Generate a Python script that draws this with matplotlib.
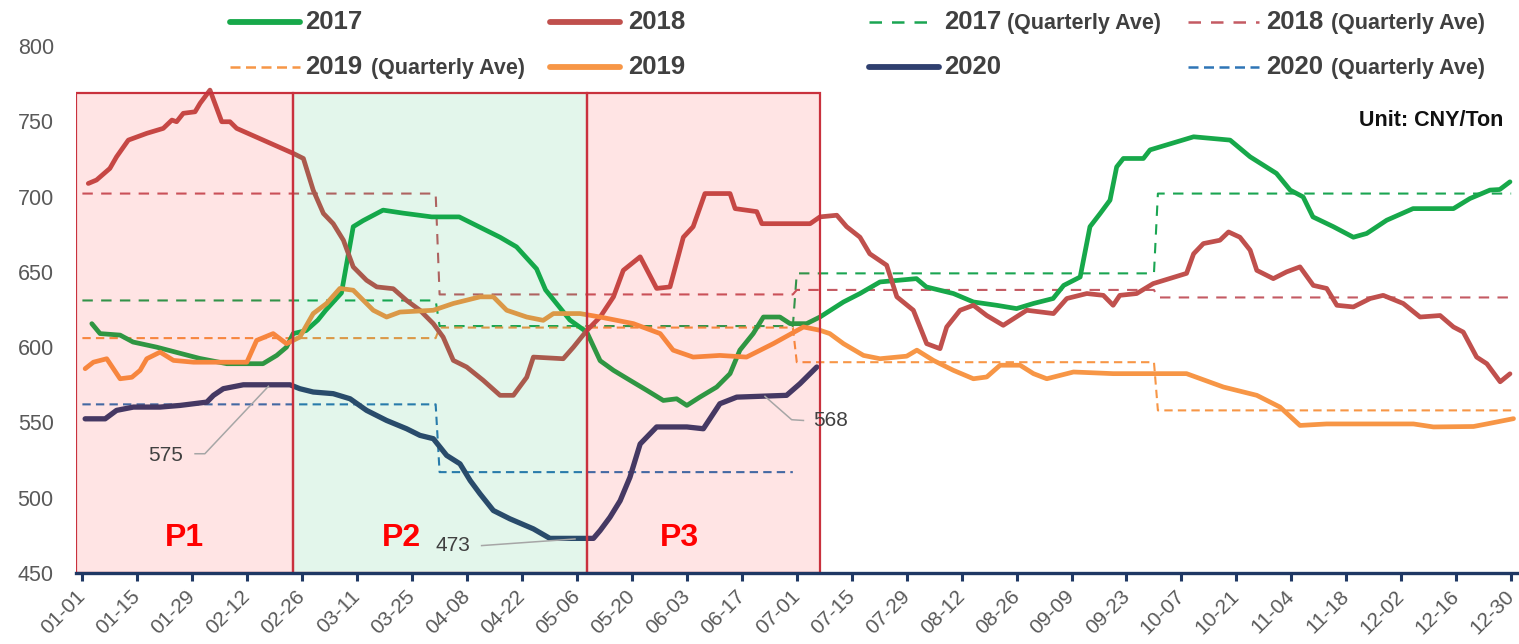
import matplotlib
matplotlib.use("Agg")
import matplotlib.pyplot as plt
import pandas as pd
from matplotlib.patches import Rectangle
from matplotlib.lines import Line2D

plt.rcParams['font.family'] = ['Liberation Sans', 'DejaVu Sans']

# ---------------- data (x = day index of year, 2020 calendar) ----------------
s2017 = [(2.4, 615.6), (4.5, 609), (9.6, 608), (12.9, 603.4), (18.9, 600), (29.9, 592.5),
         (36.8, 589), (43.5, 589), (46, 589), (49.5, 594.5), (52, 600), (53.7, 609),
         (57, 611), (60, 618), (62, 624.5), (66, 636), (69, 680), (71.5, 684),
         (76.6, 691), (81.7, 689), (89, 686.5), (96, 686.5), (101, 680), (106.4, 673),
         (110.6, 666.6), (115.7, 652), (118, 638), (124.2, 618), (128.5, 610), (131.9, 591),
         (135.3, 584.6), (139.5, 578), (143.8, 571.3), (148, 564.6), (151.4, 565.7),
         (154, 561.3), (157.3, 566.8), (161.6, 573.5), (165, 582.4), (167.5, 598),
         (170.9, 609), (173.5, 620), (177.7, 620), (180.3, 615.6), (184.5, 615.6),
         (187.9, 620), (193.9, 630), (198.1, 635.6), (203.2, 643.3), (212.5, 645.5),
         (215, 640), (221.9, 635.6), (227, 630), (232.9, 627.8), (238, 625.6), (242.3, 629),
         (247.3, 632.3), (250, 641), (254.2, 646.6), (256.7, 680), (259.3, 688.8),
         (261.8, 697.6), (263.5, 719.7), (265.2, 725.3), (270.3, 725.3), (272, 731),
         (283.1, 739.7), (292.4, 737.5), (297.5, 726.4), (304.2, 715.4), (307.7, 704.3),
         (311, 699.8), (313.5, 686.5), (318.7, 680), (323.8, 673), (327.2, 675.5),
         (332.3, 684.3), (339, 692), (349.3, 692), (353.5, 698.7), (358.6, 704.3),
         (361.1, 704.7), (363.7, 709.8)]

s2018 = [(1.5, 708.7), (3.6, 711), (7.0, 718.7), (8.7, 726.4), (11.7, 737.5), (16.4, 742),
         (20.6, 745.3), (22.8, 750.8), (24, 749.7), (25.7, 755.3), (28.7, 756.3), (30, 762),
         (32.5, 770.7), (35.5, 749.7), (37.6, 749.7), (39.3, 745.3), (53.7, 728.7),
         (56.3, 725.3), (58.8, 704.3), (61.4, 688.8), (63.9, 682), (66.5, 671), (69, 653.3),
         (72.4, 644.4), (75, 640), (79.2, 638.8), (82.6, 631), (86, 624.5), (89.4, 615.6),
         (91.9, 606.7), (94.5, 591.2), (97.9, 586.8), (102.1, 578), (106.4, 568),
         (109.8, 568), (113.2, 580), (114.9, 593.4), (122.5, 592.3), (125.1, 600),
         (128.5, 611), (131.9, 620), (135.3, 633.4), (137.8, 651), (142.1, 660),
         (146.3, 639), (149.7, 640), (153.1, 673), (155.6, 680), (158.6, 702), (165, 702),
         (166.3, 692), (171.8, 690), (173.1, 682), (185.4, 682), (187.9, 686.5),
         (192.2, 687.6), (194.7, 680), (198.1, 673), (200.6, 662), (204.9, 654.4),
         (207.5, 633.4), (211.7, 624.5), (215.1, 602.3), (218.5, 599), (220.2, 613.4),
         (223.6, 624.5), (227, 627.8), (230.4, 621), (234.6, 614.5), (240.6, 624.5),
         (247.4, 622.3), (250.8, 632.3), (255.9, 635.6), (260.1, 634.4), (262.6, 627.8),
         (264.3, 634.4), (268.6, 635.6), (272.8, 642.2), (281.3, 649), (283.1, 662),
         (285.6, 668.8), (289.8, 671), (292, 676.5), (294.9, 673), (297.5, 664.4),
         (299.2, 651), (303.4, 645.5), (306.8, 650), (310.2, 653.3), (313.6, 641),
         (317, 639), (319.6, 627.8), (323.8, 626.7), (328.1, 632.3), (331.4, 634.4),
         (336.5, 629), (340.8, 620), (345.9, 621), (349.3, 613.4), (351.8, 610),
         (355.2, 593.4), (357.8, 589), (361.2, 577), (363.7, 582.3)]

s2019 = [(0.7, 585.7), (2.8, 590), (6.2, 592.3), (9.6, 579), (12.6, 580), (14.7, 584.6),
         (16.4, 592.3), (19.8, 596.7), (23.2, 591.2), (28.3, 590), (41.9, 590), (44.4, 604.5),
         (48.6, 609), (52, 602.3), (55.4, 606.7), (58.8, 622.3), (62.2, 629), (65.6, 639),
         (69, 637.8), (74.1, 624.5), (77.5, 620), (80.9, 623.3), (89.4, 624.5), (94.5, 629),
         (101.3, 633.4), (104.7, 633.4), (108.1, 624.5), (113.2, 620), (117.4, 617.8),
         (120, 622.3), (126.8, 622.3), (131.9, 620), (140.4, 615.6), (147.2, 609),
         (150.5, 598), (155.6, 593.4), (162.4, 594.5), (169.2, 593.4), (176, 602.3),
         (183.7, 613.4), (187.9, 611.2), (190.4, 609), (193.9, 602.3), (199, 594.5),
         (203.2, 592.3), (210, 594), (212.6, 598), (216.8, 591.2), (221.9, 584.6),
         (227, 579), (230.4, 580.2), (233.8, 588), (238.9, 588), (242.3, 582.4),
         (245.7, 579), (252.5, 583.5), (262.6, 582.4), (281.3, 582.4), (290.7, 573.5),
         (299.2, 568), (305.1, 560.2), (310.2, 548), (317, 549), (339.1, 549), (344.2, 547),
         (354.4, 547.3), (357.8, 549), (364.6, 552.5)]

s2020 = [(0.7, 552.4), (5.8, 552.4), (8.7, 558), (13, 560.2), (19.8, 560.2), (24.9, 561.3),
         (31.7, 563.5), (33.4, 568), (35.9, 572.4), (41, 575), (52.9, 575), (55.4, 572.4),
         (58.8, 570.2), (63.9, 569.1), (68.2, 565.7), (72.4, 558), (77.5, 551.3),
         (82.6, 545.8), (86, 541.4), (89.4, 539.2), (92.8, 528.1), (96.2, 522.5),
         (98.8, 511.4), (101.3, 502.6), (104.7, 491.5), (108.9, 486), (114.9, 479.3),
         (119.1, 473), (130.2, 473), (131.9, 478.2), (134.4, 487), (137, 498),
         (139.5, 513.6), (142.1, 535.7), (146.3, 547), (154, 547), (158.2, 545.8),
         (162.4, 562.4), (166.7, 566.8), (179.4, 568), (182.8, 575.7), (187.1, 586.8)]

# quarterly averages
q2017 = [631, 614, 649, 702]
q2018 = [702, 635, 638, 633]
q2019 = [606, 613, 590, 558]
q2020 = [562, 517]
quarter_days = [(0, 90), (91, 181), (182, 273), (274, 364)]

tick_labels = ['01-01', '01-15', '01-29', '02-12', '02-26', '03-11', '03-25', '04-08',
               '04-22', '05-06', '05-20', '06-03', '06-17', '07-01', '07-15', '07-29',
               '08-12', '08-26', '09-09', '09-23', '10-07', '10-21', '11-04', '11-18',
               '12-02', '12-16', '12-30']
y_ticks = [450, 500, 550, 600, 650, 700, 750, 800]

ann_values = [575, 473, 568]

# ---------------- styles ----------------
C17, C18, C19, C20 = '#17a84a', '#c0504d', '#f79646', '#2f3f6f'
C17Q, C18Q, C19Q, C20Q = '#1aa552', '#c45a63', '#f79646', '#2e75b6'
TXT = '#404040'
AXC = '#1f3864'

W, H = 1519, 644
fig = plt.figure(figsize=(W / 100, H / 100), dpi=100)
ax = fig.add_axes([76 / W, 71 / H, 1443 / W, 527 / H])
ax.set_xlim(-1.63, 366.0)
ax.set_ylim(450, 800)


def unzip(s):
    return [p[0] for p in s], [p[1] for p in s]


def qsteps(q):
    xs, ys = [], []
    for (a, b), v in zip(quarter_days, q):
        xs += [a, b]
        ys += [v, v]
    return xs, ys


# quarterly dashed lines
for q, c, dash in [(q2017, C17Q, (5, 4)), (q2018, C18Q, (5, 4)),
                   (q2019, C19Q, (4, 2.5)), (q2020, C20Q, (4, 2.5))]:
    xs, ys = qsteps(q)
    ax.plot(xs, ys, color=c, lw=1.5, dashes=dash, zorder=2)

# main series
for s, c, lw in [(s2017, C17, 3.4), (s2018, C18, 3.4), (s2019, C19, 3.4), (s2020, C20, 3.8)]:
    xs, ys = unzip(s)
    ax.plot(xs, ys, color=c, lw=lw, solid_joinstyle='round', solid_capstyle='round', zorder=3)

# period boxes (semi-transparent overlays drawn on top)
box_top = 769
periods = [('P1', -1.63, 53.6, '#ff0000', 0.105, 26.1),
           ('P2', 53.6, 128.5, '#00b050', 0.11, 81.2),
           ('P3', 128.5, 187.9, '#ff0000', 0.105, 152.0)]
for name, x0, x1, fc, a, tx in periods:
    ax.add_patch(Rectangle((x0, 450), x1 - x0, box_top - 450, facecolor=fc, alpha=a,
                           edgecolor='none', zorder=4))
    ax.add_patch(Rectangle((x0, 450), x1 - x0, box_top - 450, facecolor='none',
                           edgecolor='#c9313d', lw=1.6, zorder=5))
    ax.text(tx, 473, name, color='#ff0000', fontsize=23, fontweight='bold',
            ha='center', va='center', zorder=6)

# annotations
ann_text_pos = [(21.2, 528), (94.4, 468.2), (190.5, 551.3)]
ann_leaders = [[(28.7, 529.2), (31.2, 529.2), (47.4, 574)],
               [(101.7, 468.2), (125.5, 472.6)],
               [(183.7, 551.3), (180.7, 551.8), (173.9, 567.3)]]
for v, (tx, ty), pts in zip(ann_values, ann_text_pos, ann_leaders):
    ax.text(tx, ty, str(v), fontsize=15, color=TXT, ha='center', va='center', zorder=7)
    ax.plot([p[0] for p in pts], [p[1] for p in pts], color='#a6a6a6', lw=1.1, zorder=7)

# axes styling
for sp in ['left', 'right', 'top']:
    ax.spines[sp].set_visible(False)
ax.spines['bottom'].set_color(AXC)
ax.spines['bottom'].set_linewidth(2.4)
ax.spines['bottom'].set_zorder(8)

tick_days = [pd.Timestamp('2020-' + t).dayofyear - 1 for t in tick_labels]
ax.set_xticks(tick_days)
ax.set_xticklabels(tick_labels, rotation=45, ha='right', va='center',
                   rotation_mode='anchor', fontsize=15, color='#595959')
ax.tick_params(axis='x', direction='out', length=5.5, width=2.2, color=AXC, pad=9)
ax.set_yticks(y_ticks)
ax.set_yticklabels([str(v) for v in y_ticks], fontsize=15.5, color='#595959')
ax.tick_params(axis='y', length=0, pad=16)
ax.patch.set_alpha(0)

# unit label
fig.text(1503 / W, 1 - 120.5 / H, 'Unit: CNY/Ton', fontsize=15.5, fontweight='bold',
         color='#111111', ha='right', va='center')

# legend (manual)
legend_entries = [
    ('2017', '', C17, 'solid', 230, 300, 305, None, 22),
    ('2018', '', C18, 'solid', 550, 620, 628, None, 22),
    ('2017', '(Quarterly Ave)', C17Q, (5, 4), 869, 936, 944, 1007, 22),
    ('2018', '(Quarterly Ave)', C18Q, (5, 4), 1188, 1259, 1266, 1331, 22),
    ('2019', '(Quarterly Ave)', C19Q, (4, 2.2), 230, 300, 305, 371, 67),
    ('2019', '', C19, 'solid', 550, 620, 628, None, 67),
    ('2020', '', C20, 'solid', 869, 939, 944, None, 67),
    ('2020', '(Quarterly Ave)', C20Q, (4, 2.2), 1188, 1259, 1266, 1331, 67),
]
for yr, qtxt, c, ls, lx0, lx1, tx, qx, py in legend_entries:
    yy = 1 - py / H
    if ls == 'solid':
        ln = Line2D([lx0 / W, lx1 / W], [yy, yy], color=c, lw=4.2, solid_capstyle='round',
                    transform=fig.transFigure)
    else:
        ln = Line2D([lx0 / W, lx1 / W], [yy, yy], color=c, lw=1.8, dashes=ls,
                    transform=fig.transFigure)
    fig.add_artist(ln)
    fig.text(tx / W, yy, yr, fontsize=18.5, fontweight='bold', color=TXT,
             ha='left', va='center')
    if qtxt:
        fig.text(qx / W, yy - 0.002, qtxt, fontsize=15.5, fontweight='bold', color=TXT,
                 ha='left', va='center')

fig.savefig('out.png', dpi=100)
